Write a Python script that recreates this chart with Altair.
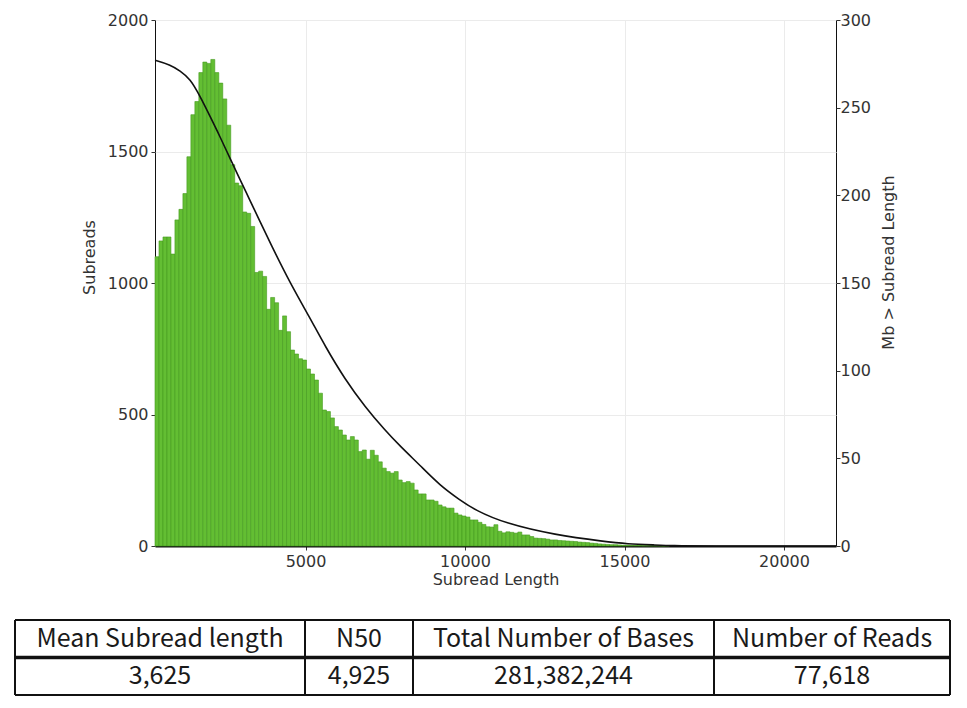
import altair as alt
import pandas as pd

# ---------------- data ----------------
bin_width = 125
first_bin_start = 280
subread_counts = [
    1100, 1160, 1175, 1175, 1110, 1240, 1280, 1340, 1480, 1640,
    1690, 1800, 1840, 1835, 1850, 1800, 1760, 1700, 1600, 1450,
    1380, 1370, 1270, 1265, 1215, 1040, 1045, 1025, 900, 945,
    925, 820, 875, 815, 745, 730, 712, 707, 673, 654,
    631, 581, 517, 511, 487, 454, 441, 422, 403, 416,
    403, 359, 365, 330, 364, 345, 320, 296, 283, 277,
    283, 251, 241, 245, 239, 213, 198, 198, 175, 175,
    170, 156, 149, 144, 144, 125, 118, 114, 110, 99,
    99, 90, 82, 73, 72, 81, 56, 50, 54, 52,
    49, 53, 42, 42, 36, 30, 29, 28, 26, 23,
    23, 21, 20, 19, 18, 17, 15, 14, 13, 11,
    10, 8, 7, 6, 5, 5, 4, 3, 3, 2,
    2, 2, 1, 1, 1, 1, 1, 0, 1,
]

curve_length = [282, 752, 1066, 1379, 1693, 2006, 2320, 2633, 2947, 3260,
                3574, 3887, 4514, 5141, 5611, 6238, 6865, 7492, 7962, 8589,
                9216, 9843, 10313, 11254, 12821, 14389, 15078, 15956, 16520,
                17367, 21630]
curve_mb = [277, 274.5, 271, 266.5, 256.5, 245, 233.4, 221, 209, 197,
            185, 173, 150, 130, 114, 95, 79.4, 66, 57, 46,
            34.5, 26.2, 20.5, 12.9, 6.3, 2.5, 1.2, 0.6, 0.2,
            0, 0]

table_headers = ["Mean Subread length", "N50", "Total Number of Bases", "Number of Reads"]
table_values = ["3,625", "4,925", "281,382,244", "77,618"]

x_ticks = [5000, 10000, 15000, 20000]
left_ticks = [0, 500, 1000, 1500, 2000]
right_ticks = [0, 50, 100, 150, 200, 250, 300]

# ---------------- layout ----------------
PLOT_W, PLOT_H = 681, 526
table_edges = [0, 290, 398, 699, 935]      # column borders (table units = px)
table_rows = [0, 37.5, 75]                 # row borders
table_x_range = [-140, 795]                # table placement relative to plot
table_y_range = [600, 675]

FONT = "DejaVu Sans"
TFONT = "Noto Sans CJK KR"

bars_df = pd.DataFrame({
    "start": [first_bin_start + i * bin_width for i in range(len(subread_counts))],
    "count": subread_counts,
})
bars_df["end"] = bars_df["start"] + bin_width

curve_df = pd.DataFrame({"length": curve_length, "mb": curve_mb})

xscale = alt.Scale(domain=[280, 21630], nice=False, zero=False)

bars = alt.Chart(bars_df).mark_bar(
    color="#63BE33", stroke="#449A1E", strokeWidth=0.6, opacity=1
).encode(
    x=alt.X("start:Q", scale=xscale,
            axis=alt.Axis(values=x_ticks, format="d", title="Subread Length",
                          grid=True, gridColor="#ebebeb", tickSize=4, tickColor="#333",
                          domain=True, domainColor="#111", domainWidth=2,
                          labelPadding=3, titlePadding=2, labelFlush=False)),
    x2="end:Q",
    y=alt.Y("count:Q", scale=alt.Scale(domain=[0, 2000], nice=False),
            axis=alt.Axis(values=left_ticks, format="d", title="Subreads",
                          grid=True, gridColor="#ebebeb", tickSize=4, tickColor="#333",
                          domain=False, labelPadding=3, labelFlush=False,
                          titleX=-66, titleY=237, titleBaseline="middle")),
    y2=alt.Y2Datum(0),
)

line = alt.Chart(curve_df).mark_line(
    color="#111111", strokeWidth=1.6, interpolate="basis"
).encode(
    x=alt.X("length:Q", scale=xscale),
    y=alt.Y("mb:Q", scale=alt.Scale(domain=[0, 300], nice=False),
            axis=alt.Axis(orient="right", values=right_ticks, format="d",
                          title="Mb > Subread Length", grid=False, labelFlush=False,
                          tickSize=4, tickColor="#333", domain=False, labelPadding=0,
                          titleAngle=270, titleX=52, titleY=242, titleBaseline="middle")),
)

main = alt.layer(bars, line).resolve_scale(y="independent")

# ---------------- table ----------------
text_rows = []
for i, (h, v) in enumerate(zip(table_headers, table_values)):
    cx = (table_edges[i] + table_edges[i + 1]) / 2
    text_rows.append({"tx": cx, "ty": (table_rows[0] + table_rows[1]) / 2, "label": h})
    text_rows.append({"tx": cx, "ty": (table_rows[1] + table_rows[2]) / 2, "label": v})
text_df = pd.DataFrame(text_rows)

vrules_df = pd.DataFrame({"rx": table_edges,
                          "ry": [table_rows[0]] * len(table_edges),
                          "ry2": [table_rows[-1]] * len(table_edges)})
hrules_df = pd.DataFrame({"rx": [table_edges[0], table_edges[0]],
                          "rx2": [table_edges[-1], table_edges[-1]],
                          "ry": [table_rows[0], table_rows[-1]]})
mid_df = pd.DataFrame({"rx": [table_edges[0]], "rx2": [table_edges[-1]],
                       "ry": [table_rows[1]]})

tx_scale = alt.Scale(domain=[table_edges[0], table_edges[-1]], range=table_x_range, nice=False, zero=False)
ty_scale = alt.Scale(domain=[table_rows[0], table_rows[-1]], range=table_y_range, nice=False, zero=False)

t_text = alt.Chart(text_df).mark_text(
    font=TFONT, fontSize=25, color="#1a1a1a", baseline="middle", align="center"
).encode(
    x=alt.X("tx:Q", scale=tx_scale, axis=None),
    y=alt.Y("ty:Q", scale=ty_scale, axis=None),
    text="label:N",
)
t_v = alt.Chart(vrules_df).mark_rule(color="#111", strokeWidth=2).encode(
    x=alt.X("rx:Q", scale=tx_scale, axis=None),
    y=alt.Y("ry:Q", scale=ty_scale, axis=None),
    y2="ry2:Q",
)
t_h = alt.Chart(hrules_df).mark_rule(color="#111", strokeWidth=2).encode(
    x=alt.X("rx:Q", scale=tx_scale, axis=None),
    x2="rx2:Q",
    y=alt.Y("ry:Q", scale=ty_scale, axis=None),
)
t_mid = alt.Chart(mid_df).mark_rule(color="#111", strokeWidth=3.5).encode(
    x=alt.X("rx:Q", scale=tx_scale, axis=None),
    x2="rx2:Q",
    y=alt.Y("ry:Q", scale=ty_scale, axis=None),
)
table = alt.layer(t_v, t_h, t_mid, t_text)

chart = alt.layer(main, table).resolve_scale(
    x="independent", y="independent"
).properties(
    width=PLOT_W, height=PLOT_H,
    autosize=alt.AutoSizeParams(type="none"),
    padding={"left": 147, "top": 12, "right": 123, "bottom": 154},
    background="white",
).configure_view(
    stroke="#111", strokeWidth=1
).configure_axis(
    labelFont=FONT, titleFont=FONT, labelFontSize=16, titleFontSize=16,
    labelColor="#333", titleColor="#333", titleFontWeight="normal",
)

chart.save("out.html", embed_options={"renderer": "svg", "actions": False})
